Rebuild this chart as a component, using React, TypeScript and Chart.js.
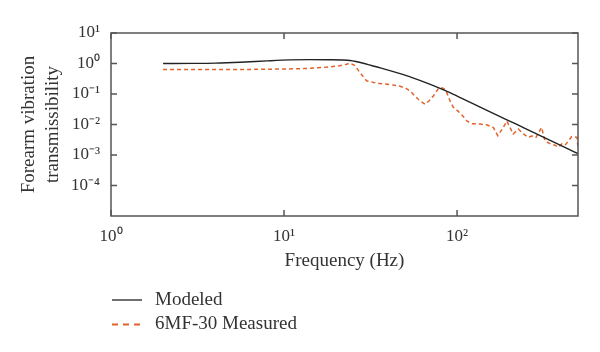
import React, { useEffect, useRef } from "react";
import { Chart, registerables } from "chart.js";

Chart.register(...registerables);

const freqModeled = [2, 3, 4, 5.6, 8, 10.8, 14, 18.4, 22, 24.1, 26, 28.7, 32, 36, 44.8, 55, 70, 85, 100, 136, 170, 220, 280, 350, 420, 500];
const modeled = [1.0, 1.01, 1.03, 1.1, 1.22, 1.31, 1.34, 1.33, 1.3, 1.25, 1.16, 1.02, 0.86, 0.72, 0.5, 0.346, 0.208, 0.131, 0.0857, 0.0373, 0.0204, 0.0102, 0.0053, 0.0029, 0.00177, 0.00111];

const freqMeasured = [2, 5, 10, 14, 18.4, 21, 23, 24.1, 25.7, 27.5, 30, 33, 35.9, 42, 46.8, 51, 54, 57, 61, 65.3, 69, 73, 78, 82, 86, 91, 95, 101, 108, 114, 122, 129, 136, 148, 162, 172, 185, 194, 211, 226, 242, 258, 275, 286, 308, 322, 347, 368, 385, 403, 421, 440, 460, 493, 500];
const measured = [0.64, 0.63, 0.66, 0.69, 0.77, 0.85, 0.95, 1.03, 0.85, 0.5, 0.27, 0.24, 0.22, 0.2, 0.18, 0.15, 0.12, 0.086, 0.06, 0.046, 0.06, 0.086, 0.15, 0.16, 0.135, 0.06, 0.037, 0.028, 0.019, 0.013, 0.0105, 0.0105, 0.0103, 0.0098, 0.008, 0.0043, 0.008, 0.013, 0.0049, 0.0071, 0.0049, 0.0038, 0.0043, 0.0038, 0.008, 0.0029, 0.0023, 0.0021, 0.0018, 0.0023, 0.0021, 0.0029, 0.004, 0.0038, 0.0018];

const xTickValues = [1, 10, 100];
const xTickLabels = ["10\u2070", "10\u00B9", "10\u00B2"];
const yTickValues = [1e-4, 1e-3, 1e-2, 1e-1, 1, 10];
const yTickLabels = ["10\u207B\u2074", "10\u207B\u00B3", "10\u207B\u00B2", "10\u207B\u00B9", "10\u2070", "10\u00B9"];

const seriesNames = ["Modeled", "6MF-30 Measured"];

const FONT = "'Liberation Serif', 'Times New Roman', serif";
const TEXT = "#333333";
const AXIS = "#555555";
const BLACK = "#222222";
const ORANGE = "#e2622b";

function labelFor(values: number[], labels: string[], v: number) {
  for (let i = 0; i < values.length; i++) {
    if (Math.abs(Math.log10(values[i]) - Math.log10(v)) < 1e-6) return labels[i];
  }
  return "";
}

const framePlugin = {
  id: "frame",
  afterDatasetsDraw(chart: any) {
    const { ctx, chartArea, scales } = chart;
    const { left, right, top, bottom } = chartArea;
    ctx.save();
    ctx.strokeStyle = AXIS;
    ctx.lineWidth = 1.5;
    ctx.strokeRect(left, top, right - left, bottom - top);
    const tl = 6;
    ctx.beginPath();
    yTickValues.forEach((v) => {
      const y = scales.y.getPixelForValue(v);
      ctx.moveTo(left, y);
      ctx.lineTo(left + tl, y);
      ctx.moveTo(right, y);
      ctx.lineTo(right - tl, y);
    });
    xTickValues.forEach((v) => {
      const x = scales.x.getPixelForValue(v);
      ctx.moveTo(x, bottom);
      ctx.lineTo(x, bottom - tl);
      ctx.moveTo(x, top);
      ctx.lineTo(x, top + tl);
    });
    ctx.stroke();
    ctx.restore();
  },
  afterDraw(chart: any) {
    const { ctx, chartArea } = chart;
    const rows = [
      { name: seriesNames[0], color: BLACK, dash: [] as number[], width: 1.3 },
      { name: seriesNames[1], color: ORANGE, dash: [6, 5], width: 2 },
    ];
    ctx.save();
    ctx.font = `19px ${FONT}`;
    ctx.textBaseline = "middle";
    ctx.textAlign = "left";
    rows.forEach((r, i) => {
      const y = chartArea.bottom + 84 + i * 24.5;
      ctx.beginPath();
      ctx.setLineDash(r.dash);
      ctx.strokeStyle = r.color;
      ctx.lineWidth = r.width;
      ctx.moveTo(112, y);
      ctx.lineTo(142, y);
      ctx.stroke();
      ctx.setLineDash([]);
      ctx.fillStyle = TEXT;
      ctx.fillText(r.name, 155, y);
    });
    ctx.restore();
  },
};

export default function App() {
  const ref = useRef<HTMLCanvasElement | null>(null);
  useEffect(() => {
    if (!ref.current) return;
    const chart = new Chart(ref.current, {
      type: "line",
      data: {
        datasets: [
          {
            label: seriesNames[0],
            data: freqModeled.map((f, i) => ({ x: f, y: modeled[i] })),
            borderColor: BLACK,
            borderWidth: 1.4,
            pointRadius: 0,
            cubicInterpolationMode: "monotone",
            fill: false,
          },
          {
            label: seriesNames[1],
            data: freqMeasured.map((f, i) => ({ x: f, y: measured[i] })),
            borderColor: ORANGE,
            borderWidth: 1.5,
            borderDash: [4, 3],
            pointRadius: 0,
            tension: 0,
            fill: false,
          },
        ],
      },
      options: {
        responsive: false,
        animation: false,
        events: [],
        layout: { padding: { top: 33, right: 22, left: 0, bottom: 79 } },
        plugins: { legend: { display: false }, tooltip: { enabled: false } },
        scales: {
          x: {
            type: "logarithmic",
            min: 1,
            max: 500,
            position: "bottom",
            grid: { display: false, drawTicks: false },
            border: { display: false },
            afterBuildTicks: (scale: any) => {
              scale.ticks = xTickValues.map((v) => ({ value: v }));
            },
            afterFit: (scale: any) => {
              scale.height = 57;
            },
            ticks: {
              autoSkip: false,
              maxRotation: 0,
              padding: 10,
              color: TEXT,
              font: { family: FONT, size: 17 },
              callback: (v: any) => labelFor(xTickValues, xTickLabels, Number(v)),
            },
            title: {
              display: true,
              text: "Frequency (Hz)",
              color: TEXT,
              font: { family: FONT, size: 19, lineHeight: 1.25 },
              padding: { top: 0, bottom: 0 },
            },
          },
          y: {
            type: "logarithmic",
            min: 1e-5,
            max: 10,
            position: "left",
            grid: { display: false, drawTicks: false },
            border: { display: false },
            afterBuildTicks: (scale: any) => {
              scale.ticks = yTickValues.map((v) => ({ value: v }));
            },
            afterFit: (scale: any) => {
              scale.width = 111;
            },
            ticks: {
              autoSkip: false,
              padding: 11,
              color: TEXT,
              font: { family: FONT, size: 17 },
              callback: (v: any) => labelFor(yTickValues, yTickLabels, Number(v)),
            },
            title: {
              display: true,
              text: ["Forearm vibration", "transmissibility"],
              color: TEXT,
              font: { family: FONT, size: 19, lineHeight: 1.25 },
              padding: { top: 17, bottom: 0 },
            },
          },
        },
      },
      plugins: [framePlugin],
    } as any);
    return () => chart.destroy();
  }, []);
  return (
    <div style={{ position: "absolute", left: 0, top: 0, width: 600, height: 352, background: "#fff" }}>
      <canvas ref={ref} width={600} height={352} style={{ display: "block" }} />
    </div>
  );
}
